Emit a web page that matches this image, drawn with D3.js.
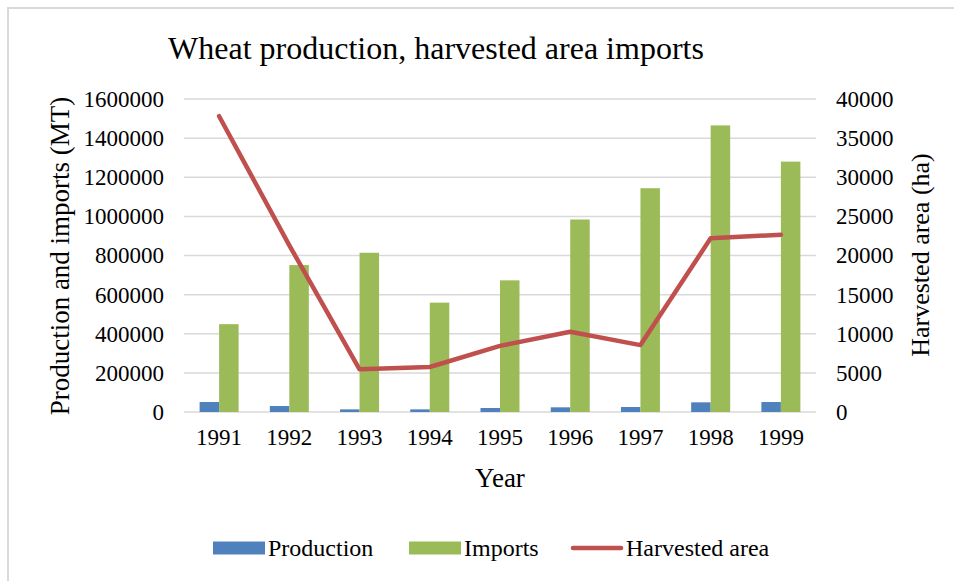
<!DOCTYPE html>
<html>
<head>
<meta charset="utf-8">
<script src="https://cdn.jsdelivr.net/npm/d3@7"></script>
<style>
  body { margin: 0; background: #fff; }
  text { font-family: "Liberation Serif", "Times New Roman", serif; fill: #000; }
</style>
</head>
<body>
<svg id="chart" width="954" height="581"></svg>
<script>
// data
var years = ["1991", "1992", "1993", "1994", "1995", "1996", "1997", "1998", "1999"];
var production = [51000, 30500, 13500, 13500, 20500, 24000, 25500, 49500, 51000];
var imports = [449000, 751000, 814000, 559000, 673000, 984000, 1144000, 1465000, 1280000];
var harvested = [37800, 21300, 5450, 5750, 8450, 10250, 8550, 22200, 22650];
var leftTicks = [0, 200000, 400000, 600000, 800000, 1000000, 1200000, 1400000, 1600000];
var rightTicks = [0, 5000, 10000, 15000, 20000, 25000, 30000, 35000, 40000];

var svg = d3.select("#chart");
var W = 954, H = 581;
var plotL = 184, plotR = 816, plotT = 99, plotB = 412;

// chart frame (only top + left visible)
svg.append("line").attr("x1", 7).attr("x2", W).attr("y1", 8).attr("y2", 8)
    .attr("stroke", "#d9d9d9").attr("stroke-width", 2);
svg.append("line").attr("x1", 8).attr("x2", 8).attr("y1", 8).attr("y2", H)
    .attr("stroke", "#d9d9d9").attr("stroke-width", 2);

var x = d3.scaleBand().domain(years).range([plotL, plotR]);
var yL = d3.scaleLinear().domain([0, 1600000]).range([plotB, plotT]);
var yR = d3.scaleLinear().domain([0, 40000]).range([plotB, plotT]);

// gridlines
svg.append("g").selectAll("line").data(leftTicks).enter().append("line")
    .attr("x1", plotL).attr("x2", plotR)
    .attr("y1", function(d) { return yL(d); }).attr("y2", function(d) { return yL(d); })
    .attr("stroke", "#d9d9d9").attr("stroke-width", 1.5);

// left axis
var axL = svg.append("g").attr("transform", "translate(" + (plotL - 20) + ",0)")
    .call(d3.axisLeft(yL).tickValues(leftTicks).tickSize(0).tickPadding(0).tickFormat(d3.format("d")));
axL.select(".domain").remove();
axL.selectAll("text").style("font-size", "23px").style("font-family", null);

// right axis
var axR = svg.append("g").attr("transform", "translate(" + (plotR + 20) + ",0)")
    .call(d3.axisRight(yR).tickValues(rightTicks).tickSize(0).tickPadding(0).tickFormat(d3.format("d")));
axR.select(".domain").remove();
axR.selectAll("text").style("font-size", "23px").style("font-family", null);

// x axis
var axX = svg.append("g").attr("transform", "translate(0," + (plotB + 17) + ")")
    .call(d3.axisBottom(x).tickSize(0).tickPadding(0));
axX.select(".domain").remove();
axX.selectAll("text").style("font-size", "23px").style("font-family", null);

// bars
var barW = 19.5;
var groups = svg.append("g").selectAll("g").data(years).enter().append("g");
groups.append("rect")
    .attr("x", function(d) { return x(d) + x.bandwidth() / 2 - barW; })
    .attr("y", function(d, i) { return yL(production[i]); })
    .attr("width", barW)
    .attr("height", function(d, i) { return plotB - yL(production[i]); })
    .attr("fill", "#4f81bd");
groups.append("rect")
    .attr("x", function(d) { return x(d) + x.bandwidth() / 2; })
    .attr("y", function(d, i) { return yL(imports[i]); })
    .attr("width", barW)
    .attr("height", function(d, i) { return plotB - yL(imports[i]); })
    .attr("fill", "#9bbb59");

// harvested area line
var line = d3.line()
    .x(function(d, i) { return x(years[i]) + x.bandwidth() / 2; })
    .y(function(d) { return yR(d); });
svg.append("path").datum(harvested).attr("d", line)
    .attr("fill", "none").attr("stroke", "#c0504d").attr("stroke-width", 4.5)
    .attr("stroke-linejoin", "round").attr("stroke-linecap", "round");

// titles
svg.append("text").attr("x", 436).attr("y", 59).attr("text-anchor", "middle")
    .style("font-size", "32px").text("Wheat production, harvested area imports");
svg.append("text").attr("transform", "translate(69,256) rotate(-90)").attr("text-anchor", "middle")
    .style("font-size", "27px").text("Production and imports (MT)");
svg.append("text").attr("transform", "translate(929,255) rotate(-90)").attr("text-anchor", "middle")
    .style("font-size", "26px").text("Harvested area (ha)");
svg.append("text").attr("x", 500).attr("y", 487).attr("text-anchor", "middle")
    .style("font-size", "27px").text("Year");

// legend
var legendItems = [
  { name: "Production", color: "#4f81bd", type: "rect", x: 213 },
  { name: "Imports", color: "#9bbb59", type: "rect", x: 409 },
  { name: "Harvested area", color: "#c0504d", type: "line", x: 571 }
];
var lg = svg.append("g").selectAll("g").data(legendItems).enter().append("g")
    .attr("transform", function(d) { return "translate(" + d.x + ",548)"; });
lg.filter(function(d) { return d.type === "rect"; }).append("rect")
    .attr("x", 0).attr("y", -6.5).attr("width", 52).attr("height", 13)
    .attr("fill", function(d) { return d.color; });
lg.filter(function(d) { return d.type === "line"; }).append("line")
    .attr("x1", 2).attr("x2", 50).attr("y1", 0).attr("y2", 0)
    .attr("stroke", function(d) { return d.color; }).attr("stroke-width", 4.5)
    .attr("stroke-linecap", "round");
lg.append("text").attr("x", 55).attr("y", 8).style("font-size", "24px")
    .text(function(d) { return d.name; });
</script>
</body>
</html>
